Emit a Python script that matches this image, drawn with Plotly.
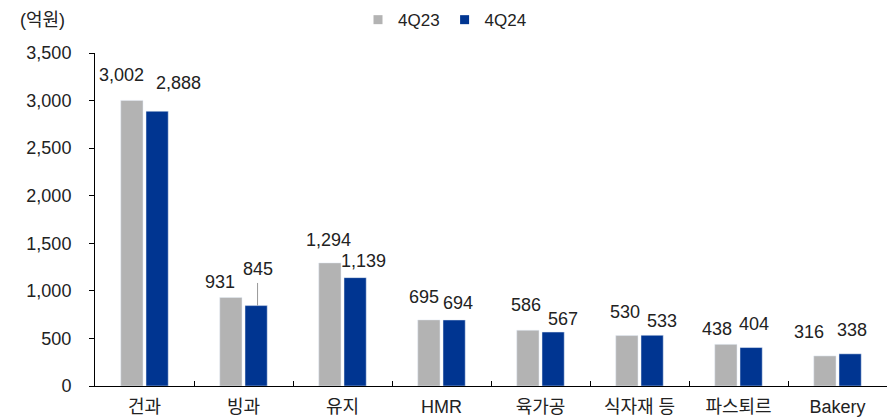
import plotly.graph_objects as go

categories = ["건과", "빙과", "유지", "HMR", "육가공", "식자재 등", "파스퇴르", "Bakery"]
q4_23 = [3002, 931, 1294, 695, 586, 530, 438, 316]
q4_24 = [2888, 845, 1139, 694, 567, 533, 404, 338]

FONT = "Liberation Sans, Arial, Noto Sans CJK KR, sans-serif"
GRAY = "#b3b3b3"
BLUE = "#003591"
TEXT = "#222222"
FS = 18

# per-label nudges (px) so neighbouring value labels do not collide
gray_dx = [-9, -9, 0, -3, 0, 0, -7, -14]
gray_dy = [25, 15, 23, 23, 25, 24, 15, 24]
blue_dx = [20, 0, 7, 2, 8, 8, 1, 0]
blue_dy = [28, 37, 17, 17, 13, 14, 24, 24]
BAR_OFFSET = 0.142  # half the distance between the two bars of a group, in category units

fig = go.Figure()
fig.add_trace(go.Bar(name="4Q23", x=categories, y=q4_23, marker_color=GRAY,
                     showlegend=False, offsetgroup="a"))
fig.add_trace(go.Bar(name="4Q24", x=categories, y=q4_24, marker_color=BLUE,
                     showlegend=False, offsetgroup="b"))

# legend entries with small square swatches
for name, color in [("4Q23", GRAY), ("4Q24", BLUE)]:
    fig.add_trace(go.Scatter(name=name, x=[None], y=[None], mode="markers",
                             marker=dict(symbol="square", size=9, color=color)))

# value labels
for i, cat in enumerate(categories):
    for vals, dx, dy, side in [(q4_23, gray_dx, gray_dy, -1), (q4_24, blue_dx, blue_dy, 1)]:
        fig.add_annotation(x=i + side * BAR_OFFSET, y=vals[i], xref="x", yref="y",
                           text=f"{vals[i]:,}", showarrow=False,
                           xanchor="center", yanchor="middle",
                           xshift=dx[i], yshift=dy[i],
                           font=dict(size=FS, color=TEXT, family=FONT))

# leader line from the 빙과 4Q24 label down to its bar
fig.add_shape(type="line", xref="x", yref="y",
              x0=1 + BAR_OFFSET, x1=1 + BAR_OFFSET, y0=q4_24[1], y1=1083,
              line=dict(color="#999999", width=1))

fig.add_annotation(text="(억원)", xref="paper", yref="paper", x=-0.097, y=1.10,
                   xanchor="left", yanchor="middle", showarrow=False,
                   font=dict(size=FS, color=TEXT, family=FONT))

fig.update_layout(
    width=890, height=419,
    margin=dict(l=95, r=3, t=53, b=33),
    paper_bgcolor="white", plot_bgcolor="white",
    font=dict(family=FONT, size=FS, color=TEXT),
    barmode="group", bargap=0.49, bargroupgap=0.12,
    showlegend=True,
    legend=dict(orientation="h", x=0.5, xanchor="center",
                xref="container", yref="container", y=0.952, yanchor="middle",
                font=dict(size=FS - 1), itemwidth=30, traceorder="normal",
                bgcolor="rgba(0,0,0,0)"),
    xaxis=dict(type="category", showline=True, linecolor="black", linewidth=1,
               ticks="inside", tickson="boundaries", ticklen=5, tickcolor="black",
               ticklabelstandoff=4, tickfont=dict(size=FS)),
    yaxis=dict(range=[0, 3500], dtick=500, tickformat=",", showgrid=False,
               showline=True, linecolor="black", linewidth=1,
               ticks="outside", ticklen=5, tickcolor="black",
               ticklabelstandoff=14, zeroline=False, tickfont=dict(size=FS)),
)

fig.write_html("out.html")
